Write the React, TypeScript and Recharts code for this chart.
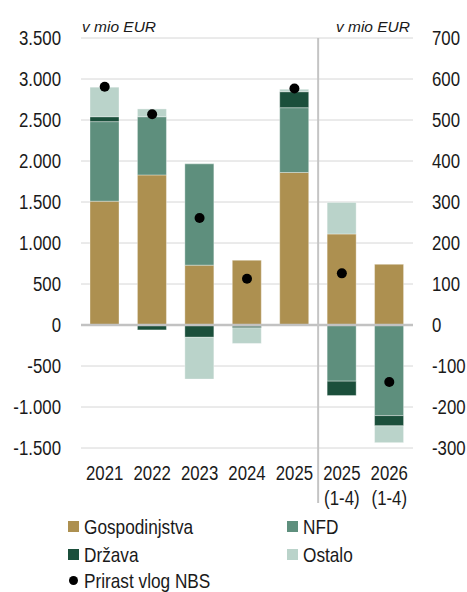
import React from 'react';
import {
  ComposedChart,
  Bar,
  Line,
  XAxis,
  YAxis,
  CartesianGrid,
  ReferenceLine,
} from 'recharts';

// annual data, left axis (v mio EUR)
const YEARS = ['2021', '2022', '2023', '2024', '2025'];
const HH_YEAR = [1510, 1830, 730, 790, 1860];
const NFD_YEAR = [970, 710, 1235, -15, 790];
const DRZ_YEAR = [60, -60, -150, -20, 195];
const OST_YEAR = [360, 95, -510, -190, 30];
const NBS_YEAR = [2905, 2570, 1305, 565, 2885];

// Jan-Apr data, right axis (v mio EUR)
const PERIODS = ['2025 (1-4)', '2026 (1-4)'];
const HH_PERIOD = [222, 148];
const NFD_PERIOD = [-137, -221];
const DRZ_PERIOD = [-35, -25];
const OST_PERIOD = [77, -41];
const NBS_PERIOD = [126, -139];

const LEFT_TICKS = [-1500, -1000, -500, 0, 500, 1000, 1500, 2000, 2500, 3000, 3500];
const RIGHT_TICKS = [-300, -200, -100, 0, 100, 200, 300, 400, 500, 600, 700];

const C_HH = '#ad9050';
const C_NFD = '#5e8f7d';
const C_DRZ = '#1b4f3b';
const C_OST = '#bad3ca';
const FONT = '"Liberation Sans", Arial, sans-serif';
const TXT = '#1a1a1a';
const NARROW = 0.82; // no Arial Narrow here, squeeze Liberation Sans instead

const rows = [
  ...YEARS.map((cat, i) => ({
    cat,
    hh: HH_YEAR[i],
    nfd: NFD_YEAR[i],
    drz: DRZ_YEAR[i],
    ost: OST_YEAR[i],
    nbs: NBS_YEAR[i],
  })),
  ...PERIODS.map((cat, i) => ({
    cat,
    hhR: HH_PERIOD[i],
    nfdR: NFD_PERIOD[i],
    drzR: DRZ_PERIOD[i],
    ostR: OST_PERIOD[i],
    nbsR: NBS_PERIOD[i],
  })),
];

const fmt = (v: number) => {
  const s = Math.abs(v).toString().replace(/\B(?=(\d{3})+(?!\d))/g, '.');
  return v < 0 ? '-' + s : s;
};

const YTick = ({ x, y, payload, textAnchor, tickFormatter }: any) => (
  <text
    transform={`translate(${x},${y}) scale(${NARROW},1)`}
    textAnchor={textAnchor}
    dy="0.36em"
    fill={TXT}
    fontSize={20.5}
    fontFamily={FONT}
  >
    {tickFormatter ? tickFormatter(payload.value) : payload.value}
  </text>
);

const XTick = ({ x, y, payload }: any) => {
  const [a, b] = String(payload.value).split(' ');
  return (
    <text
      transform={`translate(${x},${y}) scale(${NARROW},1)`}
      textAnchor="middle"
      fill={TXT}
      fontSize={20.5}
      fontFamily={FONT}
    >
      <tspan x={0} dy={24}>{a}</tspan>
      {b && <tspan x={0} dy={25}>{b}</tspan>}
    </text>
  );
};

const Separator = (p: any) => {
  const top = Math.min(p.y1, p.y2);
  const bottom = Math.max(p.y1, p.y2);
  return <line x1={p.x1} x2={p.x2} y1={top} y2={bottom + 55} stroke="#c4c4c4" strokeWidth={2} />;
};

const Narrow = ({ children }: { children: React.ReactNode }) => (
  <span style={{ display: 'inline-block', lineHeight: 1, transform: `scaleX(${NARROW})`, transformOrigin: 'left center', whiteSpace: 'nowrap' }}>
    {children}
  </span>
);

const Swatch = ({ color }: { color: string }) => (
  <span style={{ display: 'inline-block', width: 11, height: 11, background: color, marginRight: 5 }} />
);

const row = (h: number): React.CSSProperties => ({ display: 'flex', alignItems: 'center', height: h });
const cell: React.CSSProperties = { width: 219, display: 'flex', alignItems: 'center' };

export default function App() {
  const barProps = { barSize: 29, isAnimationActive: false, stroke: 'rgba(255,255,255,0.35)', strokeWidth: 1 };
  return (
    <div style={{ position: 'absolute', left: 0, top: 0, width: 467, height: 592, background: '#fff', fontFamily: FONT, color: TXT }}>
      <div style={{ position: 'absolute', left: 82, top: 18, fontSize: 15.5, fontStyle: 'italic' }}>v mio EUR</div>
      <div style={{ position: 'absolute', right: 57, top: 18, fontSize: 15.5, fontStyle: 'italic' }}>v mio EUR</div>
      <ComposedChart
        width={467}
        height={510}
        data={rows}
        margin={{ top: 38, right: 0, bottom: 0, left: 0 }}
        stackOffset="sign"
      >
        <CartesianGrid vertical={false} stroke="#d6d6d6" yAxisId="L" />
        <XAxis dataKey="cat" tick={<XTick />} tickLine={false} axisLine={false} height={62} interval={0} />
        <YAxis
          yAxisId="L"
          domain={[-1500, 3500]}
          ticks={LEFT_TICKS}
          tickFormatter={fmt}
          width={81}
          tickLine={false}
          axisLine={false}
          tickMargin={14}
          tick={<YTick />}
          allowDataOverflow
        />
        <YAxis
          yAxisId="R"
          orientation="right"
          domain={[-300, 700]}
          ticks={RIGHT_TICKS}
          width={54}
          tickLine={false}
          axisLine={false}
          tickMargin={13}
          tick={<YTick />}
          allowDataOverflow
        />
        <Bar dataKey="hh" yAxisId="L" stackId="s" fill={C_HH} {...barProps} />
        <Bar dataKey="nfd" yAxisId="L" stackId="s" fill={C_NFD} {...barProps} />
        <Bar dataKey="drz" yAxisId="L" stackId="s" fill={C_DRZ} {...barProps} />
        <Bar dataKey="ost" yAxisId="L" stackId="s" fill={C_OST} {...barProps} />
        <Bar dataKey="hhR" yAxisId="R" stackId="s" fill={C_HH} {...barProps} />
        <Bar dataKey="nfdR" yAxisId="R" stackId="s" fill={C_NFD} {...barProps} />
        <Bar dataKey="drzR" yAxisId="R" stackId="s" fill={C_DRZ} {...barProps} />
        <Bar dataKey="ostR" yAxisId="R" stackId="s" fill={C_OST} {...barProps} />
        <ReferenceLine y={0} yAxisId="L" stroke="#c2c2c2" strokeWidth={2.5} />
        <ReferenceLine x="2025 (1-4)" yAxisId="L" position="start" shape={Separator} />
        <Line dataKey="nbs" yAxisId="L" stroke="none" dot={{ r: 5, fill: '#000', stroke: 'none' }} activeDot={false} isAnimationActive={false} />
        <Line dataKey="nbsR" yAxisId="R" stroke="none" dot={{ r: 5, fill: '#000', stroke: 'none' }} activeDot={false} isAnimationActive={false} />
      </ComposedChart>
      <div style={{ position: 'absolute', left: 68, top: 513, fontSize: 21 }}>
        <div style={row(27.5)}>
          <div style={cell}><Swatch color={C_HH} /><Narrow>Gospodinjstva</Narrow></div>
          <div style={{ display: 'flex', alignItems: 'center' }}><Swatch color={C_NFD} /><Narrow>NFD</Narrow></div>
        </div>
        <div style={row(27.5)}>
          <div style={cell}><Swatch color={C_DRZ} /><Narrow>Država</Narrow></div>
          <div style={{ display: 'flex', alignItems: 'center' }}><Swatch color={C_OST} /><Narrow>Ostalo</Narrow></div>
        </div>
        <div style={row(24)}>
          <span style={{ display: 'inline-block', width: 9, height: 9, borderRadius: '50%', background: '#000', margin: '0 6px 0 1px' }} />
          <Narrow>Prirast vlog NBS</Narrow>
        </div>
      </div>
    </div>
  );
}
